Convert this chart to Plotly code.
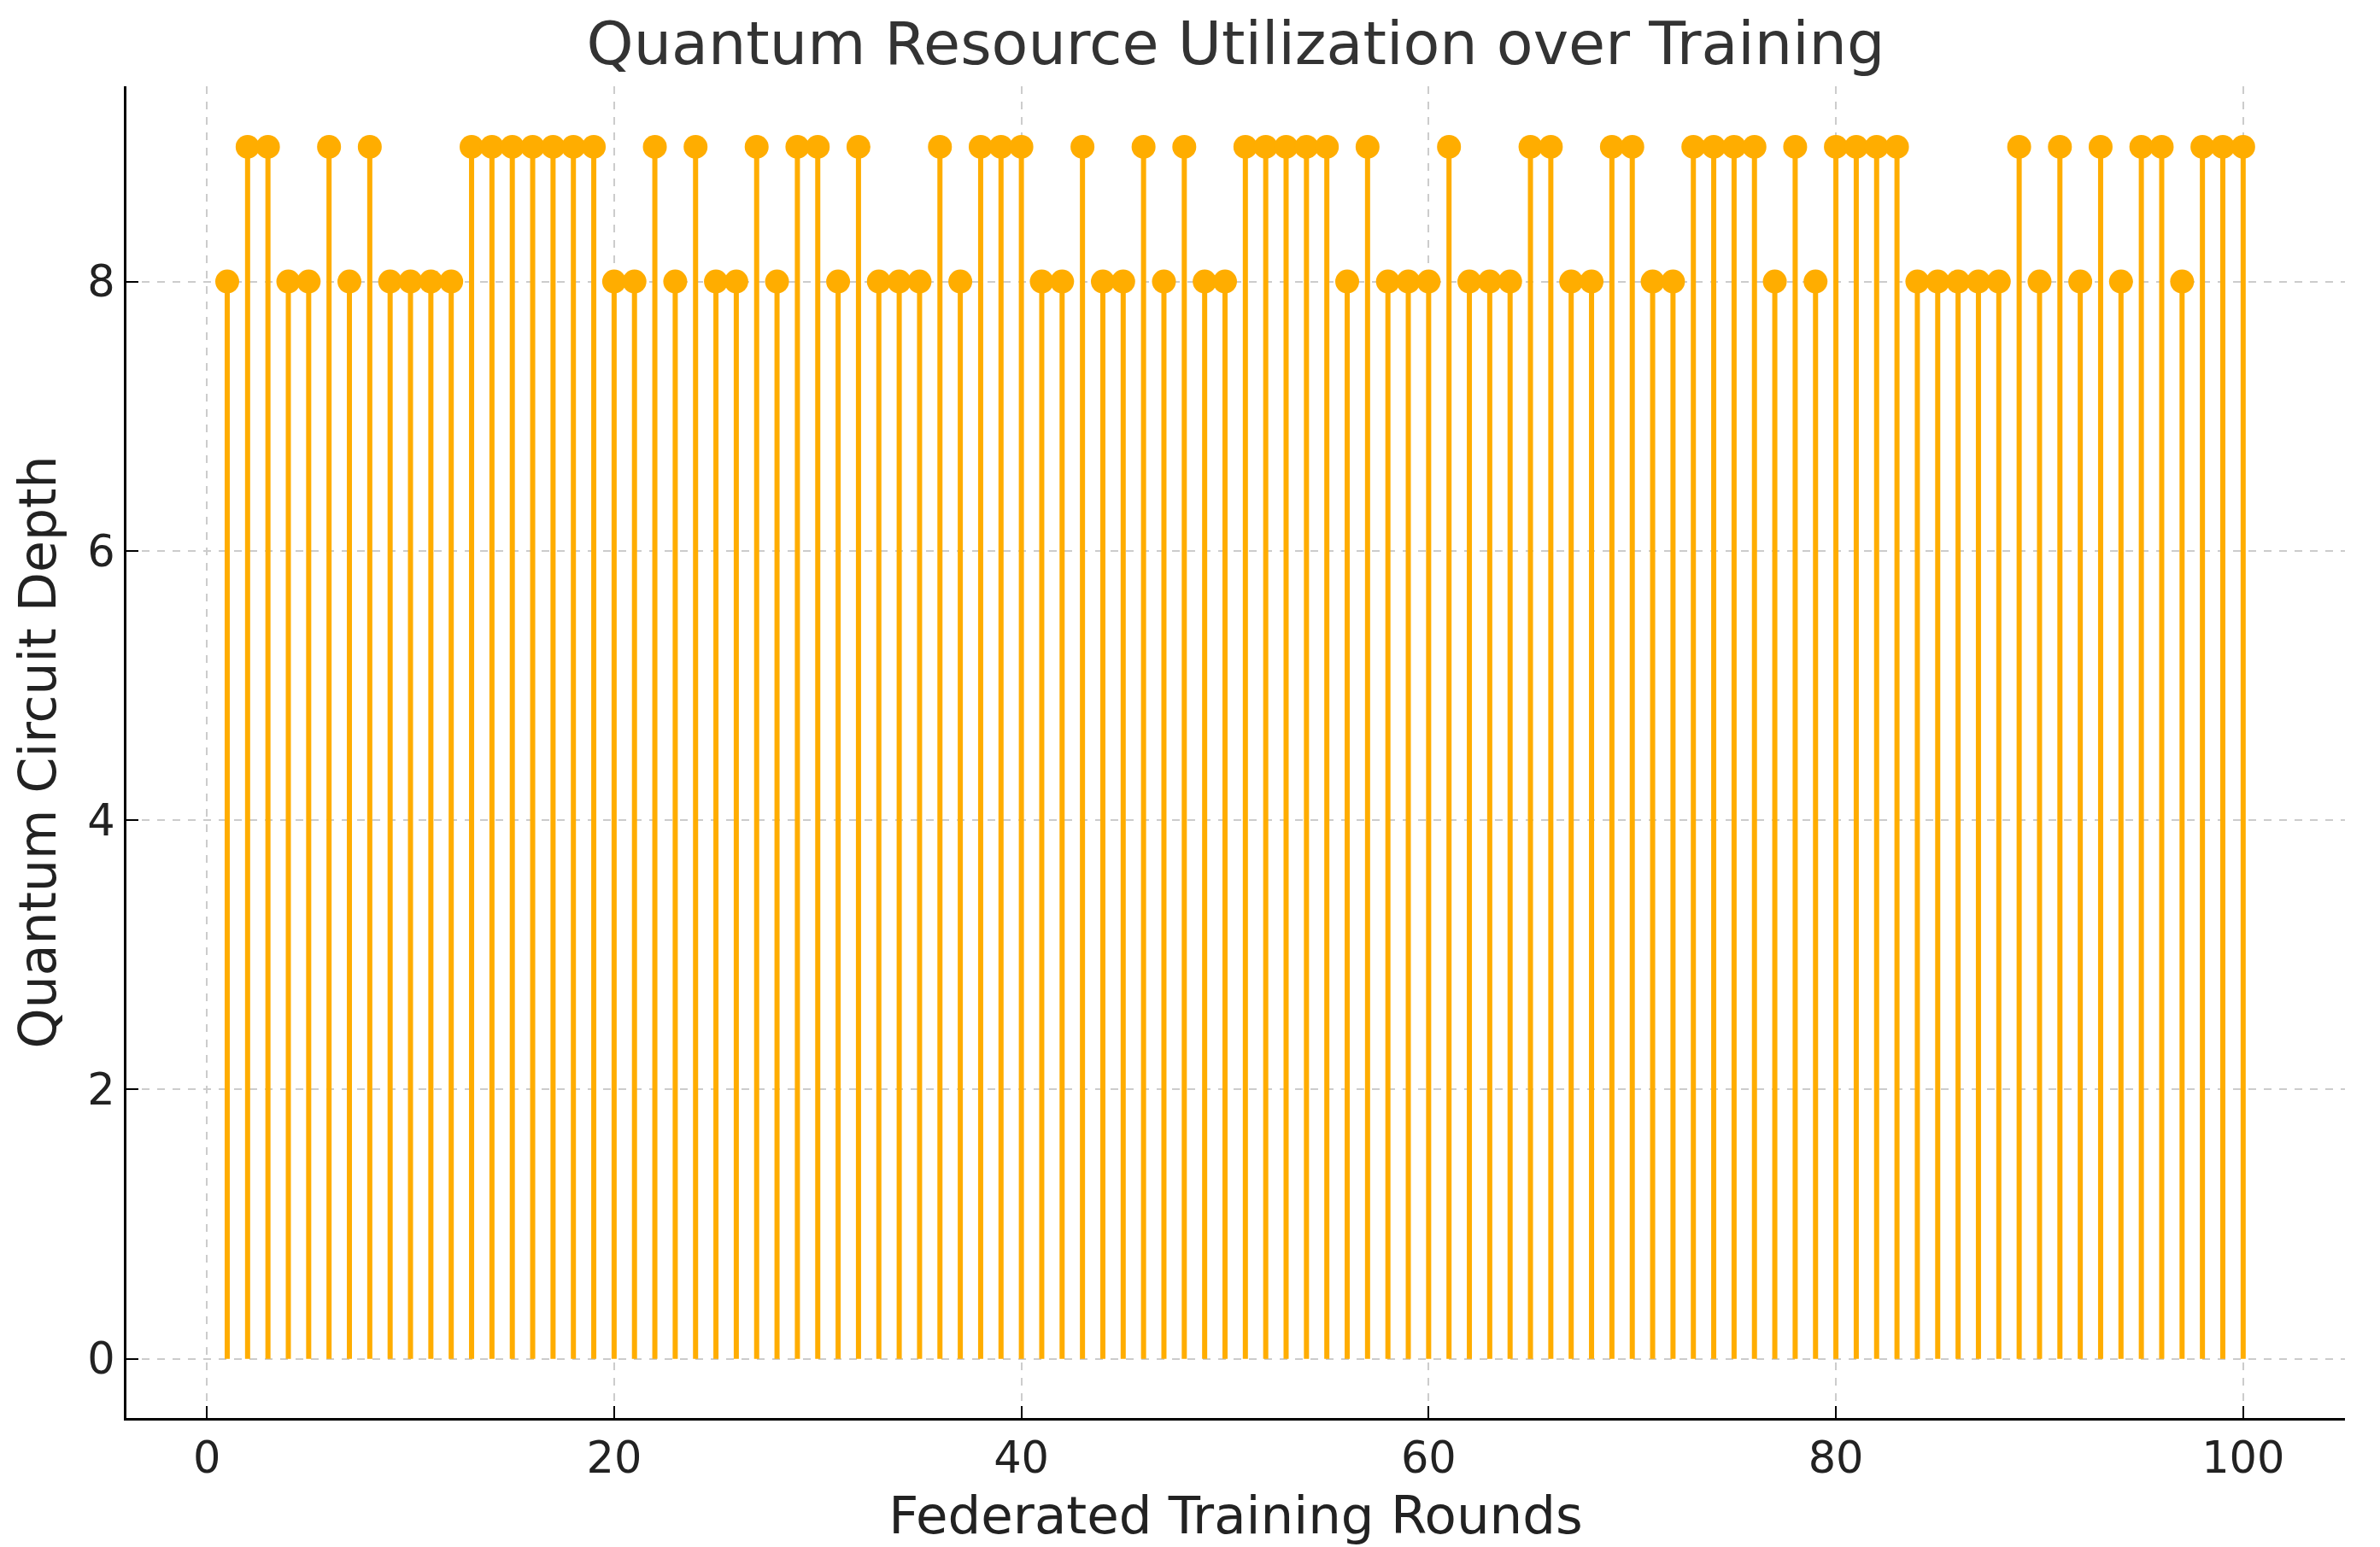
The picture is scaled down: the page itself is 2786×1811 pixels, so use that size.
import plotly.graph_objects as go

# rounds 1..100 and circuit depth
rounds = list(range(1, 101))
depth = [
    8, 9, 9, 8, 8, 9, 8, 9, 8, 8,
    8, 8, 9, 9, 9, 9, 9, 9, 9, 8,
    8, 9, 8, 9, 8, 8, 9, 8, 9, 9,
    8, 9, 8, 8, 8, 9, 8, 9, 9, 9,
    8, 8, 9, 8, 8, 9, 8, 9, 8, 8,
    9, 9, 9, 9, 9, 8, 9, 8, 8, 8,
    9, 8, 8, 8, 9, 9, 8, 8, 9, 9,
    8, 8, 9, 9, 9, 9, 8, 9, 8, 9,
    9, 9, 9, 8, 8, 8, 8, 8, 9, 8,
    9, 8, 9, 8, 9, 9, 8, 9, 9, 9,
]
x_ticks = [0, 20, 40, 60, 80, 100]
y_ticks = [0, 2, 4, 6, 8]

STEM = "#FFAD00"
FONT = "DejaVu Sans"

# stems: vertical segments from 0 to each value
stem_x, stem_y = [], []
for r, d in zip(rounds, depth):
    stem_x += [r, r, None]
    stem_y += [0, d, None]

fig = go.Figure()
fig.add_trace(go.Scatter(x=stem_x, y=stem_y, mode="lines",
                         line=dict(color=STEM, width=6), hoverinfo="skip"))
fig.add_trace(go.Scatter(x=rounds, y=depth, mode="markers",
                         marker=dict(color=STEM, size=28)))

axis_common = dict(
    showgrid=True, gridcolor="#cccccc", gridwidth=2, griddash="dash",
    showline=True, linecolor="#000000", linewidth=3, mirror=False,
    ticks="inside", ticklen=14, tickwidth=2, tickcolor="#000000",
    zeroline=False, automargin=False,
    tickfont=dict(family=FONT, size=51, color="#222222"),
)

fig.update_layout(
    width=2786, height=1811,
    paper_bgcolor="white", plot_bgcolor="white",
    showlegend=False,
    margin=dict(l=148, r=41, t=101, b=151),
    title=dict(text="Quantum Resource Utilization over Training",
               x=0.5, xref="paper", y=0.972, yanchor="middle",
               font=dict(family=FONT, size=70, color="#333333")),
    xaxis=dict(axis_common, range=[-3.95, 105], tickvals=x_ticks,
               title=dict(text="Federated Training Rounds", standoff=18,
                          font=dict(family=FONT, size=61, color="#222222"))),
    yaxis=dict(axis_common, range=[-0.44, 9.45], tickvals=y_ticks,
               title=dict(text="Quantum Circuit Depth", standoff=18,
                          font=dict(family=FONT, size=60, color="#222222"))),
)

# drop the page's default body margin so the figure fills the window exactly
fig.write_html("out.html", config={"displayModeBar": False},
               post_script="document.body.style.margin='0';")
